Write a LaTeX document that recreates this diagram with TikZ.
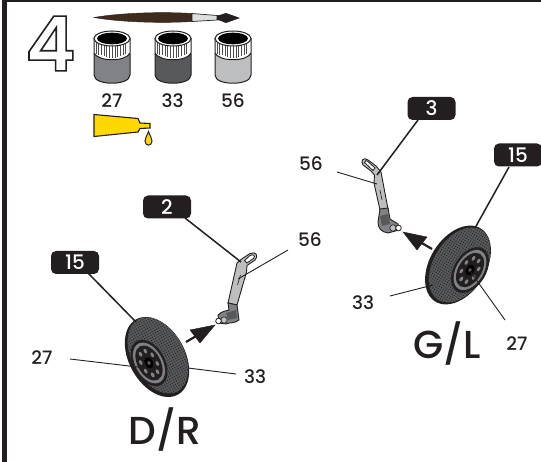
\documentclass[tikz,border=0pt]{standalone}
\usepackage{fontspec}
\setmainfont{Poppins Medium}[BoldFont=Poppins SemiBold]
\definecolor{ink}{HTML}{231F20}
\definecolor{tubey}{HTML}{FFD800}
\definecolor{pa}{HTML}{808285}
\definecolor{pb}{HTML}{58595B}
\definecolor{pc}{HTML}{BCBEC0}
\definecolor{brushb}{HTML}{3F2A1E}
\tikzset{
  pill/.style={fill=ink,rounded corners=5pt,minimum height=23pt,minimum width=48pt,inner sep=0pt,text=white,font=\fontsize{20}{20}\selectfont},
  num/.style={text=ink,inner sep=0pt,font=\fontsize{18.5}{19}\selectfont},
  big/.style={text=ink,inner sep=0pt,font=\fontsize{39}{39}\selectfont},
  lead/.style={draw=ink,line width=0.9pt},
  callout/.style={draw=ink,line width=1.5pt},
  bigarrow/.style={draw=ink,fill=ink},
}
\newcommand{\paintjar}[2]{%
  \begin{scope}[shift={(#1,0)}]
    \path[fill=#2,draw=ink,line width=1pt] (-18,54) -- (-18,75) .. controls (-18,86) and (18,86) .. (18,75) -- (18,54) -- cycle;
    \path[fill=white,draw=ink,line width=1pt] (-18,38.5) -- (-18,53) .. controls (-14,62) and (14,62) .. (18,53) -- (18,38.5) -- cycle;
    \foreach \k in {-16,-13.3,...,16} {\draw[ink!80,line width=.8pt] (\k,43) -- (\k,{58.5-abs(\k)*0.3});}
    \path[fill=white,draw=ink,line width=1pt] (0,38.5) ellipse [x radius=18,y radius=7.5];
    \path[fill=black] (0,38.5) ellipse [x radius=15,y radius=5.8];
  \end{scope}}
\newcommand{\tyre}[5]{%
  \begin{scope}[shift={(#1,#2)},rotate=#3]
    \path[fill=ink] (0,0) ellipse [x radius=43,y radius=28];
    \begin{scope}
      \clip (-1,-1.5) ellipse [x radius=41,y radius=26];
      \path[fill=#4] (0,0) ellipse [x radius=43,y radius=28];
      \foreach \i in {-42,-39.5,...,42} \foreach \j in {-28,-25.5,...,28} {\path[fill=black!85] (\i,\j) circle [radius=.72];}
    \end{scope}
  \end{scope}
  \begin{scope}[shift={(#5)},rotate=#3]
    \path[fill=ink] (0,0) ellipse [x radius=25,y radius=16];
    \path[fill=pa,draw=ink,line width=.6pt] (0,0) ellipse [x radius=22.5,y radius=14];
    \path[fill=ink] (0,0) ellipse [x radius=19,y radius=11.5];
    \foreach \a in {20,65,...,380} {\path[fill=pa] ({13*cos(\a)},{7.5*sin(\a)}) ellipse [x radius=2.6,y radius=1.5];}
    \path[fill=black] (0,0) ellipse [x radius=6,y radius=4];
    \path[fill=pb] (0,0) ellipse [x radius=2,y radius=1.5];
  \end{scope}}
\begin{document}
\begin{tikzpicture}[x=1pt,y=-1pt]
\useasboundingbox (0,0) rectangle (541,462);
\path[fill=white] (0,0) rectangle (541,462);
\path[fill=ink] (2,0) rectangle (541,2);
\path[fill=ink] (2,0) rectangle (7,462);
% step number
\node[inner sep=0pt,text=ink,font=\fontsize{76}{76}\selectfont\bfseries] (stepnum) at (50.5,43.5) {\special{pdf:code q 2 Tr 1.6 w 1 1 1 rg}4\special{pdf:code Q}};
% brush
\path[fill=brushb,draw=ink,line width=.4pt] (94,17.5) .. controls (125,12) and (170,12) .. (192,13.5) -- (192,21.5) .. controls (170,23) and (125,23) .. (94,17.5) -- cycle;
\path[fill=pc!50,draw=ink,line width=.7pt] (192,13.5) -- (217,15.5) -- (217,20) -- (192,21.5) -- cycle;
\path[fill=ink] (217,15.5) .. controls (222,15) and (224,13) .. (226,13) -- (240,18) -- (226,23) .. controls (224,23) and (222,20.5) .. (217,20) -- cycle;
% paints
\paintjar{112}{pa}
\paintjar{173}{pb}
\paintjar{233}{pc}
\node[num] (p27) at (112,101) {27};
\node[num] (p33) at (172.5,101) {33};
\node[num] (p56) at (233,101) {56};
% glue
\path[fill=tubey,draw=ink,line width=1.1pt] (94,114.5) -- (138,118.5) -- (140,123) -- (150,123.5) -- (150,128) -- (140,128.5) -- (138,132) -- (94,136.5) -- cycle;
\path[fill=tubey,draw=ink,line width=1pt] (148.5,131.5) .. controls (150,136) and (152,138) .. (152,141) .. controls (152,146.5) and (145,146.5) .. (145,141) .. controls (145,138) and (147,136) .. (148.5,131.5) -- cycle;
% left wheel
\tyre{157}{357}{-61}{pb}{149,363}
% left strut
\path[fill=pc,draw=ink,line width=.9pt] (237,263) -- (241,259.5) -- (250,253.5) .. controls (256,251) and (259,256) .. (255,260) -- (247,265.5) -- (246.5,272) -- (237,305) -- (228,303) -- (235,272) -- cycle;
\path[fill=white,draw=ink,line width=.8pt] (250,255.5) .. controls (253,253.5) and (256,256) .. (253.5,258.5) -- (247,263) -- (244.5,260.5) -- cycle;
\draw[ink,line width=.6pt] (240.5,275) -- (237.5,285);
\path[fill=pa,draw=ink,line width=.9pt] (228,303) -- (237,305) -- (239,320) .. controls (234,324) and (230,322) .. (226,324) -- (219,323) -- (218,315) .. controls (222,311) and (226,311) .. (229,310) -- cycle;
\path[fill=pb] (226,313) -- (236,310) -- (237,318) -- (228,320) -- cycle;
\path[fill=pc,draw=ink,line width=.6pt] (224,320) circle [radius=3.2];
\path[fill=white,draw=ink,line width=.8pt] (218.5,321) circle [radius=2.8];
% right wheel
\tyre{458}{265}{-122}{pb}{470,270}
% right strut
\path[fill=pc,draw=ink,line width=.9pt] (374.5,175) -- (371,171) -- (363,165) .. controls (360,160) and (364,157) .. (368,160) -- (376,166) -- (381,172) -- (388,209) -- (380,210) -- (374,183) -- cycle;
\path[fill=white,draw=ink,line width=.8pt] (364.5,162.5) .. controls (364,160) and (367,160) .. (369,162.5) -- (375,168) -- (373,170.5) -- cycle;
\draw[ink,line width=.6pt] (380,190) -- (382,200);
\path[fill=pa,draw=ink,line width=.9pt] (380,209) -- (388,208) -- (390,219) -- (398,224) -- (399,230) -- (388,233) .. controls (381,232) and (378,228) .. (378,222) -- cycle;
\path[fill=pb] (380,216) -- (388,214) -- (390,224) -- (382,226) -- cycle;
\path[fill=pc,draw=ink,line width=.6pt] (393,228) circle [radius=3.2];
\path[fill=white,draw=ink,line width=.8pt] (398.5,228) circle [radius=2.8];
% pills
\node[pill] (two) at (167,207) {2};
\node[pill] (three) at (431.5,108.5) {3};
\node[pill] (fifteenL) at (75,262.5) {15};
\node[pill] (fifteenR) at (518,155) {15};
% labels
\node[num] (l27) at (42,358) {27};
\node[num] (l33) at (255,377) {33};
\node[num] (l56) at (310,240) {56};
\node[num] (r56) at (311,164) {56};
\node[num] (r33) at (363,303) {33};
\node[num] (r27) at (517,344) {27};
\node[big] (dr) at (165,430) {D/R};
\node[big] (gl) at (447,344) {G/L};
% connector ends
\coordinate (a1) at (136,322);
\coordinate (a2) at (241,262);
\coordinate (a3) at (238,279);
\coordinate (a4) at (146,368);
\coordinate (a5) at (188,368);
\coordinate (b1) at (377,175);
\coordinate (b2) at (377,184);
\coordinate (b3) at (475,228);
\coordinate (b4) at (433,285);
\coordinate (b5) at (470,271);
\coordinate (s1) at (88,273);
\coordinate (s2) at (185,218);
\coordinate (s3) at (288,250);
\coordinate (s4) at (70,359);
\coordinate (s5) at (236,374);
\coordinate (t1) at (418,120);
\coordinate (t2) at (337,172);
\coordinate (t3) at (509,167);
\coordinate (t4) at (390,296);
\coordinate (t5) at (505,320);
\draw[callout] (s1) -- (a1);
\draw[callout] (s2) -- (a2);
\draw[lead] (s3) -- (a3);
\draw[lead] (s4) -- (a4);
\draw[lead] (s5) -- (a5);
\draw[callout] (t1) -- (b1);
\draw[lead] (t2) -- (b2);
\draw[callout] (t3) -- (b3);
\draw[lead] (t4) -- (b4);
\draw[lead] (t5) -- (b5);
% arrows
\coordinate (h1) at (186,342);
\coordinate (h2) at (215,325);
\coordinate (h3) at (432,249);
\coordinate (h4) at (403,232);
\draw[ink,line width=2.2pt] (h1) -- (198,335);
\path[bigarrow] (h2) -- (190,330) -- (200,343) -- cycle;
\draw[ink,line width=2.2pt] (h3) -- (420,242);
\path[bigarrow] (h4) -- (427,237) -- (417,250) -- cycle;
\end{tikzpicture}
\end{document}
